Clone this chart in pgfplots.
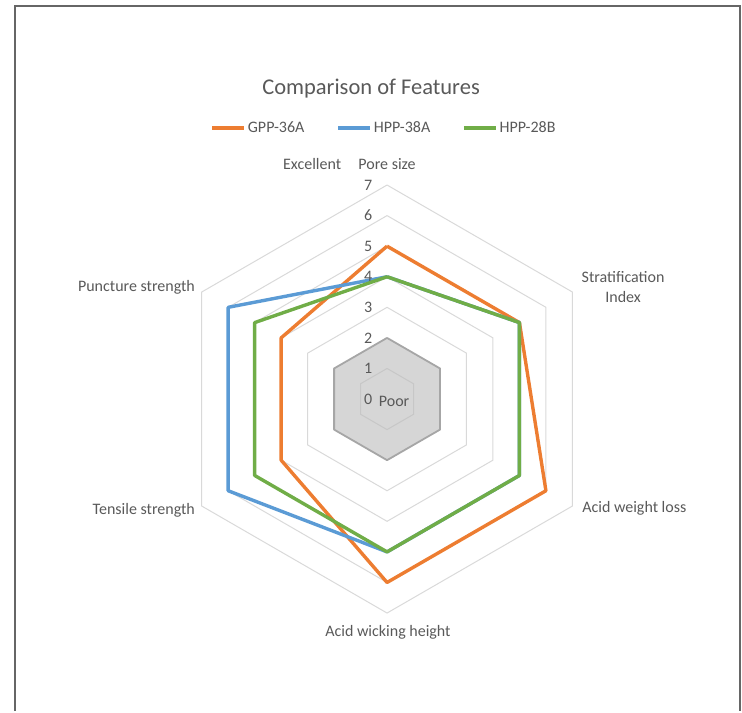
\documentclass[border=0pt]{standalone}
\usepackage{fontspec}
\setmainfont{Carlito}
\usepackage{pgfplots}
\pgfplotsset{compat=1.18}
\definecolor{cOrange}{HTML}{ED7D31}
\definecolor{cBlue}{HTML}{5B9BD5}
\definecolor{cGreen}{HTML}{70AD47}
\definecolor{cGrid}{HTML}{D9D9D9}
\definecolor{cText}{HTML}{595959}
\definecolor{cPoor}{HTML}{D6D6D6}
\definecolor{cPoorEdge}{HTML}{A6A6A6}
\begin{document}
\begin{tikzpicture}[every node/.style={text=cText, font=\fontsize{16}{19.5}\selectfont}]
\begin{axis}[
  x=30.57pt, y=30.57pt,
  xmin=-12.66, xmax=11.61,
  ymin=-10.206, ymax=13.052,
  hide axis, clip=false,
  legend columns=3,
  legend style={at={(0.5175,0.82)}, anchor=center, draw=none, fill=none,
    font=\fontsize{16}{19.5}\selectfont, text=cText,
    /tikz/every even column/.append style={column sep=30pt},
    nodes={inner xsep=2pt}},
  legend image code/.code={\draw[#1, line width=3.4pt] (0pt,0pt) -- (32pt,0pt);},
]
% page extent
\path (axis cs:-12.66,-10.206) rectangle (axis cs:11.61,13.052);
% "Poor" band
\addplot[forget plot, data cs=polar, fill=cPoor, draw=cPoorEdge, line width=1.8pt, line join=round]
  coordinates {(90,2) (30,2) (-30,2) (-90,2) (-150,2) (150,2) (90,2)};
% grid hexagons
\addplot[forget plot, data cs=polar, draw=cGrid!80!gray, line width=1pt] coordinates {(90,1) (30,1) (-30,1) (-90,1) (-150,1) (150,1) (90,1)};
\addplot[forget plot, data cs=polar, draw=cGrid, line width=1pt] coordinates {(90,3) (30,3) (-30,3) (-90,3) (-150,3) (150,3) (90,3)};
\addplot[forget plot, data cs=polar, draw=cGrid, line width=1pt] coordinates {(90,4) (30,4) (-30,4) (-90,4) (-150,4) (150,4) (90,4)};
\addplot[forget plot, data cs=polar, draw=cGrid, line width=1pt] coordinates {(90,5) (30,5) (-30,5) (-90,5) (-150,5) (150,5) (90,5)};
\addplot[forget plot, data cs=polar, draw=cGrid, line width=1pt] coordinates {(90,6) (30,6) (-30,6) (-90,6) (-150,6) (150,6) (90,6)};
\addplot[forget plot, data cs=polar, draw=cGrid, line width=1pt] coordinates {(90,7) (30,7) (-30,7) (-90,7) (-150,7) (150,7) (90,7)};

% series: Pore size, Stratification Index, Acid weight loss, Acid wicking height, Tensile strength, Puncture strength
\addplot[data cs=polar, cOrange, line width=3.4pt, line join=round]
  coordinates {(90,5) (30,5) (-30,6) (-90,6) (-150,4) (150,4) (90,5)};
\addlegendentry{GPP-36A}
\addplot[data cs=polar, cBlue, line width=3.4pt, line join=round]
  coordinates {(90,4) (30,5) (-30,5) (-90,5) (-150,6) (150,6) (90,4)};
\addlegendentry{HPP-38A}
\addplot[data cs=polar, cGreen, line width=3.4pt, line join=round]
  coordinates {(90,4) (30,5) (-30,5) (-90,5) (-150,5) (150,5) (90,4)};
\addlegendentry{HPP-28B}

% radial scale labels
\node at (axis cs:-0.62,0) {0};
\node at (axis cs:-0.62,1) {1};
\node at (axis cs:-0.62,2) {2};
\node at (axis cs:-0.62,3) {3};
\node at (axis cs:-0.62,4) {4};
\node at (axis cs:-0.62,5) {5};
\node at (axis cs:-0.62,6) {6};
\node at (axis cs:-0.62,7) {7};
\node at (axis cs:0.23,-0.07) {Poor};
\node at (axis cs:-2.45,7.69) {Excellent};

% category labels
\node at (axis cs:0,7.69) {Pore size};
\node[align=center] at (axis cs:7.72,3.66) {Stratification\\Index};
\node[anchor=west, inner xsep=0pt] at (axis cs:6.38,-3.57) {Acid weight loss};
\node at (axis cs:0.03,-7.62) {Acid wicking height};
\node[anchor=east, inner xsep=0pt] at (axis cs:-6.28,-3.63) {Tensile strength};
\node[anchor=east, inner xsep=0pt] at (axis cs:-6.28,3.66) {Puncture strength};

% title
\node[font=\fontsize{22.5}{27}\selectfont] at (axis cs:-0.523,10.17) {Comparison of Features};

% chart frame
\draw[color=black!60, line width=2pt]
  (axis cs:-12.17,-10.206) -- (axis cs:-12.17,12.86) -- (axis cs:11.55,12.86) -- (axis cs:11.55,-10.206);
\end{axis}
\end{tikzpicture}
\end{document}
